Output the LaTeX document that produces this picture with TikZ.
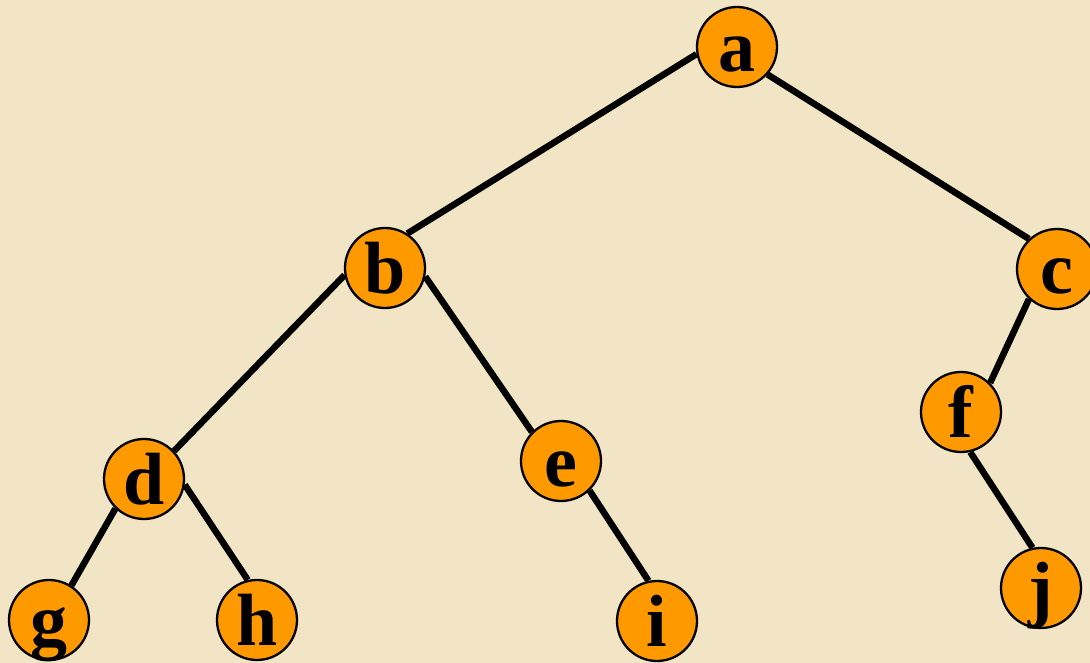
\documentclass[tikz,border=0pt]{standalone}
\usepackage{fontspec}
\setmainfont{Liberation Serif}
\definecolor{parchment}{RGB}{242,229,197}
\definecolor{nodeorange}{RGB}{255,153,0}
\begin{document}
\begin{tikzpicture}[x=1pt,y=-1pt,
  vertex/.style={circle,draw=black,line width=2.3pt,fill=nodeorange,
    minimum size=80pt,inner sep=0pt,text height=50pt,text depth=0pt,
    font=\fontsize{74}{74}\selectfont\bfseries},
  edge/.style={line width=6.5pt,black}]
  % background
  \fill[parchment] (0,0) rectangle (1090,663);
  \useasboundingbox (0,0) rectangle (1090,663);

  % tree nodes
  \node[vertex] (a) at (737,47)  {a};
  \node[vertex] (b) at (385,268) {b};
  \node[vertex] (c) at (1057,269) {c};
  \node[vertex] (d) at (144,479) {d};
  \node[vertex] (e) at (561,461) {e};
  \node[vertex] (f) at (961,412) {f};
  \node[vertex] (g) at (49,620)  {g};
  \node[vertex] (h) at (257,620) {h};
  \node[vertex] (i) at (657,621) {i};
  \node[vertex] (j) at (1041,588) {j};

  % edges
  \draw[edge] (a.190) -- (b.57);
  \draw[edge] (a.-42) -- (c.133);
  \draw[edge] (b.190) -- (d.43);
  \draw[edge] (b.-12) -- (e.135);
  \draw[edge] (c.227) -- (f.45);
  \draw[edge] (d.226) -- (g.57);
  \draw[edge] (d.-8)  -- (h.103);
  \draw[edge] (e.-46) -- (i.102);
  \draw[edge] (f.-77) -- (j.102);
\end{tikzpicture}
\end{document}
